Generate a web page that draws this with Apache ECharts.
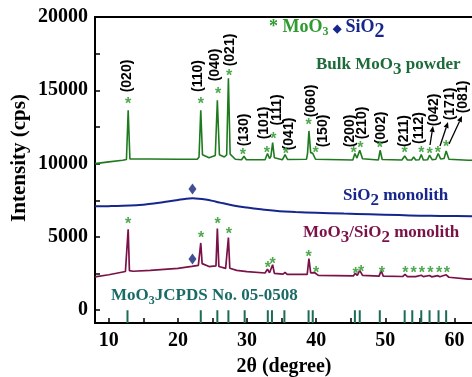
<!DOCTYPE html>
<html>
<head>
<meta charset="utf-8">
<script src="https://cdn.jsdelivr.net/npm/echarts@6/dist/echarts.min.js"></script>
<style>
  html, body { margin: 0; padding: 0; background: #fff; }
  #chart { width: 472px; height: 377px; }
</style>
</head>
<body>
<div id="chart"></div>
<script>
// XRD patterns: [2θ (degree), intensity (cps)]
const bulkPowder = [
  [8, 10000], [10, 10120], [12, 10230], [12.55, 10280], [12.8, 13640], [13.05, 10320],
  [16, 10320], [20, 10300], [22.8, 10300], [23.05, 10450], [23.3, 13640], [23.55, 10600],
  [24.5, 10400], [25.4, 10550], [25.7, 14320], [26.0, 10600], [26.7, 10450], [27.05, 10600],
  [27.3, 15820], [27.55, 10650], [28.3, 10300], [29.2, 10260], [29.55, 10500], [29.9, 10260],
  [32.6, 10260], [32.95, 10690], [33.25, 10350], [33.45, 10500], [33.7, 11440], [33.95, 10400],
  [35.1, 10260], [35.5, 10620], [35.85, 10280], [38.6, 10300], [38.75, 10700], [38.95, 12230],
  [39.2, 10750], [39.5, 10700], [39.9, 10300], [45.3, 10250], [45.6, 10690], [45.9, 10380],
  [46.3, 10910], [46.7, 10330], [49.0, 10250], [49.25, 10910], [49.55, 10280], [52.4, 10250],
  [52.8, 10520], [53.2, 10250], [53.8, 10250], [54.1, 10450], [54.4, 10250], [54.9, 10260],
  [55.2, 10620], [55.5, 10250], [56.1, 10260], [56.4, 10570], [56.8, 10260], [57.3, 10300],
  [57.65, 10690], [58.0, 10320], [58.5, 10350], [58.8, 10860], [59.2, 10300], [62, 10230],
  [65, 10220]
];

const silicaMonolith = [
  [8, 7090], [10, 7100], [12, 7120], [14, 7160], [15, 7200], [16.5, 7280], [18, 7380],
  [20, 7520], [21, 7590], [22.1, 7630], [23, 7610], [24, 7550], [25, 7460], [26, 7350],
  [28, 7150], [30, 7000], [32, 6880], [34.7, 6750], [37, 6700], [40, 6650], [44, 6590],
  [47.7, 6550], [52, 6490], [55, 6450], [58, 6430], [62.5, 6410], [65, 6400]
];

const compositeMonolith = [
  [8, 2270], [10, 2420], [12.4, 2640], [12.62, 2680], [12.8, 5520], [12.98, 2700],
  [13.5, 2660], [16, 2720], [20, 2850], [22, 2990], [22.95, 3060], [23.12, 3180],
  [23.3, 4590], [23.5, 3180], [24.5, 2980], [25.5, 3020], [25.7, 5570], [25.92, 2980],
  [26.9, 2860], [27.12, 2960], [27.3, 4960], [27.5, 2860], [28.5, 2720], [30, 2640],
  [32.6, 2540], [32.95, 2800], [33.25, 2560], [33.5, 2620], [33.7, 3100], [33.95, 2520],
  [35.2, 2460], [35.5, 2580], [35.8, 2450], [38.7, 2450], [38.95, 3520], [39.2, 2550],
  [39.8, 2560], [40.3, 2380], [45.4, 2350], [45.65, 2520], [45.95, 2380], [46.3, 2720],
  [46.7, 2380], [49.1, 2330], [49.4, 2700], [49.7, 2330], [52.5, 2300], [52.85, 2450],
  [53.2, 2290], [53.9, 2300], [54.1, 2380], [54.4, 2290], [55.2, 2390], [55.5, 2290],
  [56.4, 2370], [56.7, 2280], [57.6, 2360], [57.9, 2280], [58.8, 2420], [59.2, 2250],
  [62, 2120], [65, 2100]
];

// MoO3 reference reflections (JCPDS 05-0508), 2θ in degrees
const jcpdsLines = [12.7, 23.3, 25.7, 27.3, 29.65, 33.0, 33.6, 35.4, 38.9, 39.5,
  45.6, 46.3, 49.2, 52.8, 53.9, 55.2, 56.4, 57.7, 58.8];

// Peak markers: [2θ, intensity]
const bulkStars = [
  [12.8, 14330], [23.3, 14330], [25.8, 14950], [27.4, 16180], [29.4, 10810],
  [32.85, 10930], [33.8, 11880], [35.6, 10880], [38.9, 12900], [39.9, 10970],
  [45.4, 10970], [46.4, 11310], [49.2, 11310], [52.8, 10930], [55.2, 10970],
  [56.4, 10880], [57.6, 10930], [58.8, 11400]
];
const compositeStars = [
  [12.8, 6100], [23.35, 5130], [25.75, 6100], [27.37, 5420], [33.0, 3080],
  [33.7, 3420], [38.9, 3830], [40.0, 2790], [45.7, 2690], [46.5, 2860],
  [49.5, 2790], [52.9, 2790], [54.1, 2790], [55.3, 2790], [56.5, 2790],
  [57.8, 2790], [58.9, 2790]
];
const silicaDiamonds = [[22.1, 8270], [22.1, 3490]];

// Axis ticks
const xLabelTicks = [10, 20, 30, 40, 50, 60];
const xTickMarks = [10, 15, 20, 25, 30, 35, 40, 45, 50, 55, 60];
const yLabelTicks = [0, 5000, 10000, 15000, 20000];
const yTickMarks = [0, 2500, 5000, 7500, 10000, 12500, 15000, 17500, 20000];
const Y_MIN = -870;

// Miller indices of bulk MoO3 reflections
const hklText = ['(020)', '(110)', '(040)', '(021)', '(130)', '(101)', '(111)', '(041)',
  '(060)', '(150)', '(200)', '(210)', '(002)', '(211)', '(112)', '(042)', '(171)', '(081)'];
// label centres in pixels, same order as hklText
const hklLayout = [[126.7, 76], [198.5, 76], [215, 65], [230, 50], [244, 130], [264, 123],
  [277, 110], [289.5, 134], [311.5, 101], [323, 131], [350, 131], [362.5, 123], [381.5, 128],
  [404.5, 131], [419, 128], [434, 110], [450.5, 104], [463.5, 97]];
// leader arrows [x0, y0, x1, y1]
const arrowLayout = [[430, 145, 433, 126], [440, 146, 448, 122], [449, 144, 462, 116]];

const C_BULK = '#1f7a1f';
const C_SILICA = '#16268c';
const C_COMP = '#7a1248';
const C_STAR = '#4fa84f';
const C_REF = '#1c6b55';
const SERIF = '"Liberation Serif", "Times New Roman", serif';
const SANS = '"Liberation Sans", Arial, sans-serif';

function starRenderer(color) {
  return function (params, api) {
    const p = api.coord([api.value(0), api.value(1)]);
    return {
      type: 'text',
      x: p[0], y: p[1] + 4,
      style: { text: '*', fill: color, font: 'bold 16px ' + SANS, align: 'center', verticalAlign: 'middle' }
    };
  };
}

function refLineRenderer(params, api) {
  const top = api.coord([api.value(0), 0]);
  const bottom = api.coord([api.value(0), Y_MIN]);
  return {
    type: 'line',
    shape: { x1: top[0], y1: top[1], x2: bottom[0], y2: bottom[1] },
    style: { stroke: C_REF, lineWidth: 2 }
  };
}

function richText(x, y, parts, baseSize) {
  const rich = {};
  let text = '';
  parts.forEach(function (p, i) {
    const key = 't' + i;
    rich[key] = {
      fill: p.color,
      font: 'bold ' + (p.size || baseSize) + 'px ' + (p.family || SERIF),
      lineHeight: 20,
      padding: [p.drop || 0, 0, 0, 0],
      verticalAlign: 'top'
    };
    text += '{' + key + '|' + p.text + '}';
  });
  return {
    type: 'text', x: x, y: y, silent: true,
    style: { text: text, rich: rich, align: 'left', verticalAlign: 'top' }
  };
}

function arrow(a) {
  const ang = Math.atan2(a[3] - a[1], a[2] - a[0]);
  const len = 6, half = 2.6;
  const bx = a[2] - len * Math.cos(ang), by = a[3] - len * Math.sin(ang);
  const nx = -Math.sin(ang), ny = Math.cos(ang);
  return [
    { type: 'line', shape: { x1: a[0], y1: a[1], x2: bx, y2: by }, style: { stroke: '#000', lineWidth: 1.3 } },
    { type: 'polygon', shape: { points: [[a[2], a[3]], [bx + nx * half, by + ny * half], [bx - nx * half, by - ny * half]] }, style: { fill: '#000' } }
  ];
}

const graphics = [];
hklText.forEach(function (t, i) {
  graphics.push({
    type: 'text', x: hklLayout[i][0], y: hklLayout[i][1], rotation: Math.PI / 2, silent: true,
    style: { text: t, fill: '#000', font: 'bold 14px ' + SANS, align: 'center', verticalAlign: 'middle' }
  });
});
arrowLayout.forEach(function (a) { arrow(a).forEach(function (g) { graphics.push(g); }); });

graphics.push(
  richText(269, 18, [
    { text: '* MoO', color: '#2f9a2f', size: 18 },
    { text: '3', color: '#2f9a2f', size: 12, drop: 8 },
    { text: ' ', color: C_SILICA, size: 18 },
    { text: '◆', color: C_SILICA, size: 11, family: SANS, drop: 5 },
    { text: ' SiO', color: C_SILICA, size: 18 },
    { text: '2', color: C_SILICA, size: 20, drop: 4 }
  ], 18),
  richText(316, 56, [
    { text: 'Bulk MoO', color: '#1d6b3a' },
    { text: '3', color: '#1d6b3a', drop: 5 },
    { text: ' powder', color: '#1d6b3a' }
  ], 17),
  richText(343, 187, [
    { text: 'SiO', color: C_SILICA },
    { text: '2', color: C_SILICA, drop: 5 },
    { text: ' monolith', color: C_SILICA }
  ], 17),
  richText(303, 224, [
    { text: 'MoO', color: C_COMP },
    { text: '3', color: C_COMP, drop: 5 },
    { text: '/SiO', color: C_COMP },
    { text: '2', color: C_COMP, drop: 5 },
    { text: ' monolith', color: C_COMP }
  ], 17),
  richText(111, 287, [
    { text: 'MoO', color: '#1a6b66' },
    { text: '3', color: '#1a6b66', size: 12, drop: 8 },
    { text: 'JCPDS No. 05-0508', color: '#1a6b66' }
  ], 17),
  {
    type: 'text', x: 20, y: 158, rotation: Math.PI / 2, silent: true,
    style: { text: 'Intensity (cps)', fill: '#000', font: 'bold 21px ' + SERIF, align: 'center', verticalAlign: 'middle' }
  },
  {
    type: 'text', x: 284, y: 367, silent: true,
    style: { text: '2θ (degree)', fill: '#000', font: 'bold 20px ' + SERIF, align: 'center', verticalAlign: 'middle' }
  }
);

const chart = echarts.init(document.getElementById('chart'), null, { renderer: 'canvas' });
chart.setOption({
  animation: false,
  backgroundColor: '#fff',
  grid: { left: 95, top: 17, right: -17, bottom: 54, containLabel: false, outerBoundsMode: 'none' },
  xAxis: [{
    type: 'value', min: 8, max: 65,
    axisLine: { onZero: false, lineStyle: { color: '#000', width: 2 } },
    axisTick: { inside: true, length: 5, customValues: xTickMarks, lineStyle: { color: '#000', width: 1.5 } },
    axisLabel: { customValues: xLabelTicks, color: '#000', fontFamily: SERIF, fontWeight: 'bold', fontSize: 20, margin: 8 },
    splitLine: { show: false }
  }, {
    type: 'value', min: 8, max: 65, position: 'top',
    axisLine: { onZero: false, lineStyle: { color: '#000', width: 2 } },
    axisTick: { show: false }, axisLabel: { show: false }, splitLine: { show: false }
  }],
  yAxis: {
    type: 'value', min: Y_MIN, max: 20000,
    axisLine: { show: true, onZero: false, lineStyle: { color: '#000', width: 2 } },
    axisTick: { show: true, inside: true, length: 5, customValues: yTickMarks, lineStyle: { color: '#000', width: 1.5 } },
    axisLabel: {
      customValues: yLabelTicks, color: '#000', fontFamily: SERIF, fontWeight: 'bold', fontSize: 20, margin: 7,
      formatter: function (v) { return String(v); }
    },
    splitLine: { show: false }
  },
  series: [
    { type: 'line', data: bulkPowder, showSymbol: false, lineStyle: { color: C_BULK, width: 1.6 }, z: 3 },
    { type: 'line', data: silicaMonolith, smooth: 0.4, showSymbol: false, lineStyle: { color: C_SILICA, width: 2 }, z: 3 },
    { type: 'line', data: compositeMonolith, showSymbol: false, lineStyle: { color: C_COMP, width: 1.7 }, z: 3 },
    { type: 'custom', data: jcpdsLines.map(function (v) { return [v, 0]; }), renderItem: refLineRenderer, encode: { x: 0, y: 1 }, z: 2 },
    { type: 'custom', data: bulkStars, renderItem: starRenderer(C_STAR), encode: { x: 0, y: 1 }, z: 4 },
    { type: 'custom', data: compositeStars, renderItem: starRenderer(C_STAR), encode: { x: 0, y: 1 }, z: 4 },
    { type: 'scatter', data: silicaDiamonds, symbol: 'diamond', symbolSize: [8, 11], itemStyle: { color: '#14237a' }, z: 4 }
  ],
  graphic: graphics
});
</script>
</body>
</html>
